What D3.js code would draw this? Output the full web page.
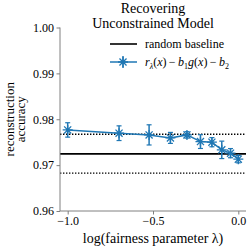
<!DOCTYPE html>
<html>
<head>
<meta charset="utf-8">
<script src="https://cdn.jsdelivr.net/npm/d3@7"></script>
<style>
  html, body { margin: 0; padding: 0; background: #fff; }
  svg { display: block; }
  svg text { font-family: "Liberation Serif", "Times New Roman", Times, "DejaVu Serif", serif !important; fill: #000; }
</style>
</head>
<body>
<div id="wrapper"></div>
<script>
// data
const lambdas = [0.1, 0.2, 0.3, 0.4, 0.5, 0.6, 0.7, 0.8, 0.9, 1.0]
const accuracy = [0.97767, 0.97696, 0.97659, 0.97593, 0.97659, 0.97513, 0.97500, 0.97333, 0.97261, 0.97130]
const accuracyErr = [0.00157, 0.0016, 0.0022, 0.0012, 0.0007, 0.0015, 0.0010, 0.0019, 0.0010, 0.0008]
const baselineMean = 0.97245
const baselineBand = [0.96826, 0.97674]
const xTicks = [-1.0, -0.5, 0.0]
const yTicks = [0.96, 0.97, 0.98, 0.99, 1.00]
const titleLines = ["Recovering", "Unconstrained Model"]

const blue = "#1f77b4"
const serif = "'Liberation Serif', 'Times New Roman', Times, serif"

const dimensions = {
    width: 249,
    height: 247,
    margin: { top: 27.5, right: 3, bottom: 36, left: 60 },
}
dimensions.boundedWidth = dimensions.width - dimensions.margin.left - dimensions.margin.right
dimensions.boundedHeight = dimensions.height - dimensions.margin.top - dimensions.margin.bottom

const dataset = lambdas.map((l, i) => ({ x: Math.log10(l), y: accuracy[i], err: accuracyErr[i] }))

const wrapper = d3.select("#wrapper")
    .append("svg")
    .attr("width", dimensions.width)
    .attr("height", dimensions.height)
    .style("font-family", serif)

const bounds = wrapper.append("g")
    .attr("transform", `translate(${dimensions.margin.left},${dimensions.margin.top})`)

const xScale = d3.scaleLinear()
    .domain([-1.045, 0.045])
    .range([0, dimensions.boundedWidth])

const yScale = d3.scaleLinear()
    .domain([0.96, 1.00])
    .range([dimensions.boundedHeight, 0])

// baseline lines
bounds.append("line")
    .attr("x1", 0).attr("x2", dimensions.boundedWidth)
    .attr("y1", yScale(baselineMean)).attr("y2", yScale(baselineMean))
    .attr("stroke", "#000").attr("stroke-width", 1.6)

bounds.selectAll(".band")
    .data(baselineBand)
    .enter().append("line")
    .attr("class", "band")
    .attr("x1", 0).attr("x2", dimensions.boundedWidth)
    .attr("y1", d => yScale(d)).attr("y2", d => yScale(d))
    .attr("stroke", "#000").attr("stroke-width", 1.4)
    .attr("stroke-dasharray", "1.4,1.6")

// series line
const lineGen = d3.line().x(d => xScale(d.x)).y(d => yScale(d.y))
bounds.append("path")
    .datum(dataset)
    .attr("d", lineGen)
    .attr("fill", "none")
    .attr("stroke", blue)
    .attr("stroke-width", 1.5)

// error bars
const errs = bounds.selectAll(".err").data(dataset).enter().append("g").attr("class", "err")
errs.append("line")
    .attr("x1", d => xScale(d.x)).attr("x2", d => xScale(d.x))
    .attr("y1", d => yScale(d.y - d.err)).attr("y2", d => yScale(d.y + d.err))
    .attr("stroke", blue).attr("stroke-width", 1.5)
errs.selectAll(".cap")
    .data(d => [d.y - d.err, d.y + d.err].map(v => ({ x: d.x, v })))
    .enter().append("line")
    .attr("x1", d => xScale(d.x) - 2.5).attr("x2", d => xScale(d.x) + 2.5)
    .attr("y1", d => yScale(d.v)).attr("y2", d => yScale(d.v))
    .attr("stroke", blue).attr("stroke-width", 1.2)

// asterisk marker
function asterisk(cx, cy, r) {
    const k = r * Math.SQRT1_2
    return `M${cx - r},${cy}L${cx + r},${cy}M${cx},${cy - r}L${cx},${cy + r}` +
        `M${cx - k},${cy - k}L${cx + k},${cy + k}M${cx - k},${cy + k}L${cx + k},${cy - k}`
}
bounds.selectAll(".marker")
    .data(dataset)
    .enter().append("path")
    .attr("class", "marker")
    .attr("d", d => asterisk(xScale(d.x), yScale(d.y), 5))
    .attr("stroke", blue).attr("stroke-width", 1.3).attr("fill", "none")

// axes
const xAxis = bounds.append("g")
    .attr("transform", `translate(0,${dimensions.boundedHeight})`)
    .call(d3.axisBottom(xScale).tickValues(xTicks).tickFormat(d => d3.format(".1f")(d).replace("-", "\u2212")).tickSize(3.5).tickPadding(1.5))
const yAxis = bounds.append("g")
    .call(d3.axisLeft(yScale).tickValues(yTicks).tickFormat(d3.format(".2f")).tickSize(3.5).tickPadding(2.5))

;[xAxis, yAxis].forEach(ax => {
    ax.attr("font-family", serif)
    ax.select(".domain").attr("stroke", "#808080").attr("stroke-width", 1)
    ax.selectAll(".tick line").attr("stroke", "#808080").attr("stroke-width", 1)
    ax.selectAll(".tick text").attr("font-size", 12).attr("fill", "#000")
})
xAxis.select(".domain").attr("d", `M0,0H${dimensions.boundedWidth}`)
yAxis.select(".domain").attr("d", `M0,${dimensions.boundedHeight}V0`)

// axis labels
wrapper.append("text")
    .attr("x", dimensions.margin.left + dimensions.boundedWidth / 2)
    .attr("y", 243)
    .attr("text-anchor", "middle")
    .attr("font-size", 14)
    .text("log(fairness parameter \u03bb)")

const yLabel = wrapper.append("text")
    .attr("transform", `translate(0,${dimensions.margin.top + dimensions.boundedHeight / 2}) rotate(-90)`)
    .attr("text-anchor", "middle")
    .attr("font-size", 13)
yLabel.append("tspan").attr("x", 0).attr("y", 14).text("reconstruction")
yLabel.append("tspan").attr("x", 0).attr("y", 25).text("accuracy")

// title
wrapper.selectAll(".title")
    .data(titleLines)
    .enter().append("text")
    .attr("class", "title")
    .attr("x", dimensions.margin.left + dimensions.boundedWidth / 2)
    .attr("y", (d, i) => 12.5 + i * 15.5)
    .attr("text-anchor", "middle")
    .attr("font-size", 14)
    .text(d => d)

// legend
const legend = wrapper.append("g").attr("transform", "translate(110,44)")
legend.append("line").attr("x1", 0).attr("x2", 27).attr("y1", 0).attr("y2", 0)
    .attr("stroke", "#000").attr("stroke-width", 1.6)
legend.append("text").attr("x", 35).attr("y", 4).attr("font-size", 12).text("random baseline")

const leg2 = legend.append("g").attr("transform", "translate(0,18)")
leg2.append("line").attr("x1", 0).attr("x2", 27).attr("y1", 0).attr("y2", 0)
    .attr("stroke", blue).attr("stroke-width", 1.5)
leg2.append("line").attr("x1", 13).attr("x2", 13).attr("y1", -6).attr("y2", 6)
    .attr("stroke", blue).attr("stroke-width", 1.5)
leg2.append("path").attr("d", asterisk(13, 0, 5))
    .attr("stroke", blue).attr("stroke-width", 1.3).attr("fill", "none")
const formula = leg2.append("text").attr("x", 35).attr("y", 4).attr("font-size", 12)
formula.append("tspan").attr("font-style", "italic").text("r")
formula.append("tspan").attr("font-style", "italic").attr("font-size", 8).attr("dy", 2.5).text("\u03bb")
formula.append("tspan").attr("dy", -2.5).text("(")
formula.append("tspan").attr("font-style", "italic").text("x")
formula.append("tspan").text(")\u2009\u2212\u2009")
formula.append("tspan").attr("font-style", "italic").text("b")
formula.append("tspan").attr("font-size", 8).attr("dy", 2.5).text("1")
formula.append("tspan").attr("font-style", "italic").attr("dy", -2.5).text("g")
formula.append("tspan").text("(")
formula.append("tspan").attr("font-style", "italic").text("x")
formula.append("tspan").text(")\u2009\u2212\u2009")
formula.append("tspan").attr("font-style", "italic").text("b")
formula.append("tspan").attr("font-size", 8).attr("dy", 2.5).text("2")
</script>
</body>
</html>
